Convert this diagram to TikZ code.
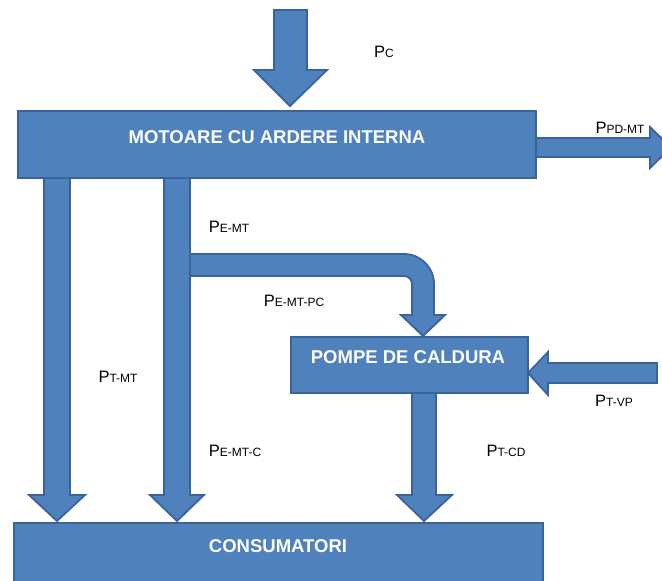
\documentclass[tikz,border=0pt]{standalone}
\usepackage{fontspec}
\setmainfont{Liberation Sans}
\definecolor{bfill}{HTML}{4F81BD}
\definecolor{bdraw}{HTML}{3A639A}
\newcommand{\plab}[1]{{\fontsize{16.5}{16.5}\selectfont P\raisebox{-0.5pt}{\fontsize{12}{12}\selectfont #1}}}
\tikzset{
  blk/.style={fill=bfill, draw=bdraw, line width=1.8pt, line join=miter},
  boxtxt/.style={text=white, font=\fontsize{18.5}{18.5}\selectfont\bfseries, inner sep=0pt},
  lab/.style={inner sep=0pt, text=black},
}
\begin{document}
\begin{tikzpicture}[x=1pt,y=-1pt]
\useasboundingbox (0,0) rectangle (662,581);
% arrows
\draw[blk] (274,10) -- (307,10) -- (307,70) -- (327,70) -- (290,106) -- (254,70) -- (274,70) -- cycle;
\draw[blk] (530,138) -- (650,138) -- (650,127) -- (671,147.5) -- (650,168) -- (650,157) -- (530,157) -- cycle;
\draw[blk] (44,170) -- (70,170) -- (70,495) -- (85,495) -- (57,521) -- (29,495) -- (44,495) -- cycle;
\draw[blk] (164,170) -- (190,170) -- (190,495) -- (204,495) -- (177,521) -- (150,495) -- (164,495) -- cycle;
\draw[blk] (412,385) -- (436,385) -- (436,495) -- (452,495) -- (424,521) -- (397,495) -- (412,495) -- cycle;
\draw[blk] (190,254) -- (404,254) arc (-90:0:30) -- (434,315) -- (445,315) -- (423,336) -- (401,315) -- (412,315) -- (412,284) arc (0:-90:8) -- (190,276) -- cycle;
\draw[blk] (657,363) -- (548,363) -- (548,352) -- (528,373) -- (548,395) -- (548,383) -- (657,383) -- cycle;
% boxes
\node[blk, minimum width=518pt, minimum height=67pt, anchor=north west, inner sep=0pt] (mai) at (17,110) {};
\node[boxtxt] (maitxt) at (277,137) {MOTOARE CU ARDERE INTERNA};
\node[blk, minimum width=237pt, minimum height=56pt, anchor=north west, inner sep=0pt] (pc) at (290,336) {};
\node[boxtxt] (pctxt) at (408,357) {POMPE DE CALDURA};
\node[blk, minimum width=529pt, minimum height=80pt, anchor=north west, inner sep=0pt] (cons) at (13,522) {};
\node[boxtxt] (constxt) at (278,546) {CONSUMATORI};
% labels
\node[lab] (lpc) at (384,52) {\plab{C}};
\node[lab] (lpd) at (620,128) {\plab{PD-MT}};
\node[lab] (lemt) at (229,227) {\plab{E-MT}};
\node[lab] (lemtpc) at (294,301) {\plab{E-MT-PC}};
\node[lab] (ltmt) at (118,377) {\plab{T-MT}};
\node[lab] (lemtc) at (235,451) {\plab{E-MT-C}};
\node[lab] (ltcd) at (506,451) {\plab{T-CD}};
\node[lab] (ltvp) at (614,401) {\plab{T-VP}};
\end{tikzpicture}
\end{document}
